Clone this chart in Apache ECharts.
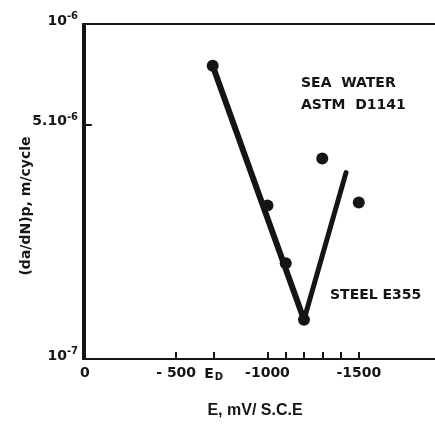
<!DOCTYPE html>
<html>
<head>
<meta charset="utf-8">
<script src="https://cdn.jsdelivr.net/npm/echarts@6/dist/echarts.min.js"></script>
<style>html,body{margin:0;padding:0;background:#fff;}#c{width:435px;height:425px;}</style>
</head>
<body>
<div id="c"></div>
<script>
// Measured points: potential E (mV vs SCE), crack growth rate (m/cycle)
const pointE = [-700, -1000, -1100, -1200, -1300, -1500];
const pointRate = [7.5e-7, 2.87e-7, 1.93e-7, 1.31e-7, 3.97e-7, 2.93e-7];
// Fitted V-shaped trend lines
const leftLineE = [-700, -1200];
const leftLineRate = [7.5e-7, 1.31e-7];
const rightLineE = [-1200, -1430];
const rightLineRate = [1.31e-7, 3.6e-7];
// Axis ticks and labels
const E_D = -705;
const xTickValues = [-500, E_D, -1000, -1100, -1200, -1300, -1400, -1500];
const xLabelValues = [0, -500, E_D, -1000, -1500];
const yLabelValues = [1e-7, 5e-7, 1e-6];
const yLabelText = {'1e-7': ['10', '-7'], '5e-7': ['5.10', '-6'], '1e-6': ['10', '-6']};

const zip = (a, b) => a.map((v, i) => [v, b[i]]);
const chart = echarts.init(document.getElementById('c'));
const ink = '#151515';
const tickFont = 'DejaVu Sans';
chart.setOption({
  backgroundColor: '#ffffff',
  animation: false,
  grid: { left: 83, width: 362, top: 24, height: 335, outerBoundsMode: 'none', containLabel: false, show: true, borderColor: ink, borderWidth: 2, backgroundColor: 'transparent' },
  xAxis: {
    type: 'value', inverse: true, min: -1972, max: 10,
    splitLine: { show: false },
    axisLine: { show: true, lineStyle: { color: ink, width: 2 } },
    axisTick: { show: true, inside: true, length: 7, customValues: xTickValues, lineStyle: { color: ink, width: 2 } },
    axisLabel: {
      customValues: xLabelValues, margin: 7, color: ink,
      fontFamily: tickFont, fontWeight: 'bold', fontSize: 14,
      formatter: v => {
        if (v === 0) return '0';
        if (v === E_D) return '{e|E}{d|D}';
        if (v === -500) return '- 500';
        return '-' + Math.abs(v);
      },
      rich: {
        e: { fontFamily: tickFont, fontWeight: 'bold', fontSize: 14, color: ink },
        d: { fontFamily: tickFont, fontWeight: 'bold', fontSize: 10, color: ink, padding: [6, 0, 0, 1] }
      }
    }
  },
  yAxis: {
    type: 'log', logBase: 10, min: 1e-7, max: 1e-6,
    splitLine: { show: false }, minorTick: { show: false },
    axisLine: { show: true, lineStyle: { color: ink, width: 2 } },
    axisTick: { show: true, inside: true, length: 7, customValues: [5e-7], lineStyle: { color: ink, width: 2 } },
    axisLabel: {
      customValues: yLabelValues, margin: 5, color: ink, verticalAlign: 'middle', padding: [0, 0, 6, 0],
      fontFamily: tickFont, fontWeight: 'bold', fontSize: 14,
      formatter: v => {
        const key = v < 2e-7 ? '1e-7' : (v < 8e-7 ? '5e-7' : '1e-6');
        const t = yLabelText[key];
        return '{b|' + t[0] + '}{s|' + t[1] + '}';
      },
      rich: {
        b: { fontFamily: tickFont, fontWeight: 'bold', fontSize: 14, color: ink },
        s: { fontFamily: tickFont, fontWeight: 'bold', fontSize: 10, color: ink, padding: [0, 0, 9, 0] }
      }
    }
  },
  graphic: [
    { type: 'text', left: 301, top: 76, style: { text: 'SEA  WATER', font: 'bold 14px "DejaVu Sans"', fill: ink } },
    { type: 'text', left: 301, top: 98, style: { text: 'ASTM  D1141', font: 'bold 14px "DejaVu Sans"', fill: ink } },
    { type: 'text', left: 330, top: 288, style: { text: 'STEEL E355', font: 'bold 14px "DejaVu Sans"', fill: ink } },
    { type: 'text', x: 255, y: 411, style: { text: 'E, mV/ S.C.E', font: 'bold 16px "Liberation Sans"', fill: ink, align: 'center', verticalAlign: 'middle' } },
    { type: 'text', x: 26, y: 206, rotation: Math.PI / 2, style: { text: '(da/dN)p, m/cycle', font: 'bold 14px "DejaVu Sans"', fill: ink, align: 'center', verticalAlign: 'middle' } }
  ],
  series: [
    { type: 'line', data: zip(leftLineE, leftLineRate), symbol: 'none', lineStyle: { color: ink, width: 6, cap: 'round' }, z: 2 },
    { type: 'line', data: zip(rightLineE, rightLineRate), symbol: 'none', lineStyle: { color: ink, width: 5, cap: 'round' }, z: 2 },
    { type: 'scatter', data: zip(pointE, pointRate), symbol: 'circle', symbolSize: 12, itemStyle: { color: ink, opacity: 1 }, z: 3 }
  ]
});
</script>
</body>
</html>
